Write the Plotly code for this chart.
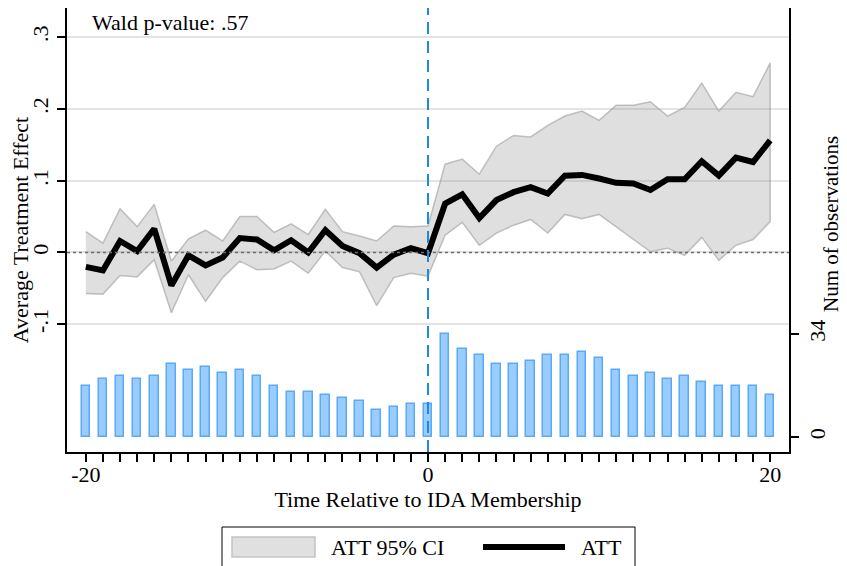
import plotly.graph_objects as go

# Event time
t = list(range(-20, 21))

# ATT point estimates
att = [-0.020, -0.025, 0.016, 0.002, 0.033, -0.046, -0.004, -0.018, -0.007, 0.020,
       0.018, 0.003, 0.017, 0.000, 0.031, 0.009, -0.001, -0.021, -0.003, 0.006,
       -0.001, 0.068, 0.081, 0.048, 0.073, 0.084, 0.091, 0.082, 0.107, 0.108,
       0.103, 0.097, 0.096, 0.087, 0.102, 0.102, 0.127, 0.107, 0.132, 0.126, 0.156]

# 95% CI bounds
ci_hi = [0.029, 0.013, 0.061, 0.036, 0.067, -0.012, 0.019, 0.031, 0.016, 0.050,
         0.050, 0.028, 0.040, 0.025, 0.060, 0.029, 0.023, 0.016, 0.037, 0.036,
         0.037, 0.123, 0.130, 0.109, 0.148, 0.163, 0.161, 0.177, 0.190, 0.197,
         0.184, 0.205, 0.205, 0.210, 0.190, 0.202, 0.236, 0.197, 0.223, 0.217, 0.264]
ci_lo = [-0.057, -0.058, -0.032, -0.034, -0.010, -0.084, -0.031, -0.068, -0.035, -0.012,
         -0.024, -0.023, -0.012, -0.029, 0.002, -0.021, -0.027, -0.074, -0.035, -0.029,
         -0.033, 0.024, 0.042, 0.010, 0.027, 0.038, 0.046, 0.027, 0.053, 0.047,
         0.053, 0.036, 0.018, 0.001, 0.006, -0.004, 0.021, -0.011, 0.010, 0.018, 0.043]

# Number of observations per event time
n_obs = [17, 19, 20, 19, 20, 24, 22, 23, 21, 22, 20, 17, 15, 15, 14, 13, 12, 9, 10, 11,
         11, 34, 29, 27, 24, 24, 25, 27, 27, 28, 26, 22, 20, 21, 19, 20, 18, 17, 17, 17, 14]

y_ticks = [-0.1, 0, 0.1, 0.2, 0.3]
y_ticktext = ["-.1", "0", ".1", ".2", ".3"]
x_labels = {-20: "-20", 0: "0", 20: "20"}

FONT = "Liberation Serif, Times New Roman, serif"
FS = 22

# the page body adds an 8px margin, so the figure is drawn 8px smaller
OFF = 8
W, H = 847 - OFF, 566 - OFF
L, R, T = 67 - OFF, 58, 8 - OFF
B = H - T - 444


def px(x):
    # page pixel -> paper x
    return (x - OFF - L) / (W - L - R)


def py(y):
    # page pixel -> paper y
    return (H - B - (y - OFF)) / (H - T - B)


fig = go.Figure()

# CI band as a closed polygon
fig.add_trace(go.Scatter(
    x=t + t[::-1], y=ci_hi + ci_lo[::-1], fill="toself",
    fillcolor="rgba(140,140,140,0.28)", line=dict(color="rgba(150,150,150,0.55)", width=1.5),
    mode="lines", hoverinfo="skip", name="ATT 95% CI"))

fig.add_trace(go.Scatter(
    x=t, y=att, mode="lines", line=dict(color="black", width=6), name="ATT"))

fig.add_trace(go.Bar(
    x=t, y=n_obs, yaxis="y2", width=0.5,
    marker=dict(color="rgb(153,204,255)", line=dict(color="rgb(90,170,245)", width=1.5)),
    name="Num of observations"))

# reference lines
fig.add_shape(type="line", xref="paper", yref="y", x0=0, x1=1, y0=0, y1=0,
              line=dict(color="rgb(110,110,110)", width=1.5, dash="dot"))
fig.add_shape(type="line", xref="x", yref="paper", x0=0, x1=0, y0=0, y1=1,
              line=dict(color="rgb(30,136,229)", width=2, dash="12px,7px"))

fig.add_annotation(text="Wald p-value: .57", xref="paper", yref="paper",
                   x=px(90), y=py(8), xanchor="left", yanchor="top",
                   showarrow=False, font=dict(size=FS, family=FONT, color="black"))

# right axis title, placed by hand so it stays inside the page
fig.add_annotation(text="Num of observations", xref="paper", yref="paper",
                   x=px(831), y=py(224), xanchor="center", yanchor="middle",
                   textangle=-90, showarrow=False,
                   font=dict(size=21, family=FONT, color="black"))

# legend drawn by hand, Stata style
fig.add_shape(type="rect", xref="paper", yref="paper", x0=px(222), x1=px(635),
              y0=py(590), y1=py(527), line=dict(color="black", width=1), fillcolor="white")
fig.add_shape(type="rect", xref="paper", yref="paper", x0=px(232), x1=px(315),
              y0=py(557), y1=py(537), line=dict(color="rgb(195,195,195)", width=1.5),
              fillcolor="rgb(224,224,224)")
fig.add_shape(type="line", xref="paper", yref="paper", x0=px(483), x1=px(565),
              y0=py(547), y1=py(547), line=dict(color="black", width=6))
fig.add_annotation(text="ATT 95% CI", xref="paper", yref="paper", x=px(329), y=py(547),
                   xanchor="left", yanchor="middle", showarrow=False,
                   font=dict(size=FS, family=FONT, color="black"))
fig.add_annotation(text="ATT", xref="paper", yref="paper", x=px(579), y=py(547),
                   xanchor="left", yanchor="middle", showarrow=False,
                   font=dict(size=FS, family=FONT, color="black"))

fig.update_layout(
    width=W, height=H,
    margin=dict(l=L, r=R, t=T, b=B, autoexpand=False),
    plot_bgcolor="white", paper_bgcolor="white",
    font=dict(family=FONT, size=FS, color="black"),
    showlegend=False,
    bargap=0,
    xaxis=dict(
        range=[-21.1, 21.1], tickvals=t, ticktext=[x_labels.get(v, "") for v in t],
        ticks="outside", ticklen=8, tickwidth=1.5, tickcolor="black", automargin=False,
        ticklabelstandoff=-6,
        showline=True, linecolor="black", linewidth=1.5, showgrid=False, zeroline=False,
        title=dict(text="Time Relative to IDA Membership", standoff=0, font=dict(size=FS)),
    ),
    yaxis=dict(
        range=[-0.2779, 0.3405], tickvals=y_ticks, ticktext=y_ticktext, tickangle=-90,
        ticks="outside", ticklen=8, tickwidth=1.5, tickcolor="black", automargin=False,
        showline=True, linecolor="black", linewidth=1.5,
        showgrid=True, gridcolor="rgb(228,228,228)", gridwidth=1.5, zeroline=False,
        title=dict(text="Average Treatment Effect", standoff=4, font=dict(size=FS)),
    ),
    yaxis2=dict(
        overlaying="y", side="right", range=[-4.95, 141.6], tickvals=[0, 34],
        tickangle=-90, ticks="outside", ticklen=8, tickwidth=1.5, tickcolor="black",
        automargin=False, ticklabelstandoff=0,
        showline=True, linecolor="black", linewidth=1.5, showgrid=False, zeroline=False,
    ),
)

fig.write_html("out.html")
